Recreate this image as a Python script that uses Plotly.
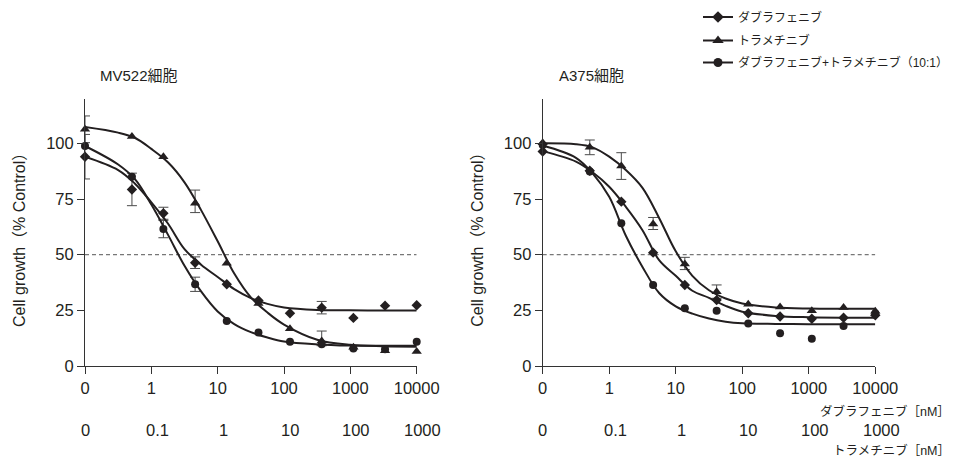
import math
import plotly.graph_objects as go

# ---------------- data ----------------
DAB_CONC = [0, 0.51, 1.52, 4.57, 13.7, 41.2, 123, 370, 1111, 3333, 10000]   # nM dabrafenib
X_TICK_DAB = ["0", "1", "10", "100", "1000", "10000"]
X_TICK_TRA = ["0", "0.1", "1", "10", "100", "1000"]
TICK_LOG = [-1, 0, 1, 2, 3, 4]          # log10 positions ("0" dose drawn at -1)
Y_TICKS = [0, 25, 50, 75, 100]
THRESHOLD = 50

SERIES_NAMES = ["ダブラフェニブ", "トラメチニブ", "ダブラフェニブ+トラメチニブ（10:1）"]
PANEL_TITLES = ["MV522細胞", "A375細胞"]

# MV522 measured points
MV_DAB = [94.0, 79.3, 68.6, 46.4, 36.7, 29.4, 23.7, 26.2, 21.6, 27.1, 27.3]
MV_TRA = [106.3, 103.1, 94.0, 73.1, 46.1, 28.1, 16.7, 11.2, 8.4, 6.8, 6.5]
MV_COMBO = [98.8, 85.0, 61.5, 36.7, 20.2, 15.0, 10.9, 9.8, 7.9, 7.5, 10.9]
MV_DAB_ERR_P = [10, 7.3, 2.7, 2.6, None, None, None, 2.8, None, None, None]
MV_DAB_ERR_M = [10, 7.3, 2.7, 2.6, None, None, None, 2.8, None, None, None]
MV_TRA_ERR_P = [6, None, None, 5.9, None, None, None, 4.5, None, None, None]
MV_TRA_ERR_M = [6, None, None, 4.2, None, None, None, 2.1, None, None, None]
MV_COMBO_ERR_P = [None, None, 3.9, 3.2, None, None, None, None, None, None, None]
MV_COMBO_ERR_M = [None, None, 3.9, 3.2, None, None, None, None, None, None, None]

# A375 measured points
A_DAB = [96.3, 87.7, 73.8, 50.9, 36.4, 29.6, 23.7, 22.2, 21.2, 21.7, 22.8]
A_TRA = [100.3, 98.2, 89.8, 63.8, 45.8, 33.4, 27.7, 26.5, 24.8, 26.3, 24.6]
A_COMBO = [99.3, 87.3, 64.1, 36.4, 25.9, 24.8, 19.1, 14.7, 12.2, 18.0, 23.6]
A_TRA_ERR_P = [None, 3.3, 6.0, 2.9, 3.0, 3.0, None, None, None, None, None]
A_TRA_ERR_M = [None, 3.3, 6.0, 2.5, 2.5, 3.0, None, None, None, None, None]

# fitted curves at these log10 doses
CURVE_LOG = [-1, -0.5, -0.25, 0, 0.25, 0.5, 0.75, 1, 1.25, 1.5, 1.75, 2, 2.5, 3, 3.5, 4]
MV_DAB_FIT = [94.0, 88.0, 82.0, 73.5, 64.0, 52.5, 45.5, 40.0, 34.5, 30.5, 27.9, 26.3, 25.2, 25.0, 24.9, 24.9]
MV_TRA_FIT = [107.3, 104.8, 102.5, 97.5, 91.5, 82.5, 70.0, 56.0, 41.5, 30.8, 24.0, 18.6, 11.8, 9.5, 8.9, 8.7]
MV_COMBO_FIT = [98.8, 90.5, 84.0, 72.5, 59.0, 45.0, 33.5, 24.5, 18.8, 15.2, 12.8, 11.0, 9.7, 9.2, 9.1, 9.1]
A_DAB_FIT = [96.5, 91.8, 87.0, 80.5, 71.5, 61.0, 47.5, 40.5, 33.8, 30.6, 27.0, 24.4, 22.5, 21.9, 21.7, 21.7]
A_TRA_FIT = [100.0, 99.6, 98.2, 94.0, 88.0, 80.0, 66.5, 51.5, 40.5, 34.0, 30.3, 28.1, 26.3, 25.8, 25.7, 25.7]
A_COMBO_FIT = [99.0, 93.5, 86.5, 76.0, 58.5, 44.5, 32.8, 26.8, 23.5, 21.3, 19.9, 19.2, 18.9, 18.8, 18.8, 18.8]

# ---------------- style ----------------
INK = "#231f20"
FONT = "Liberation Sans, Noto Sans CJK JP, sans-serif"
SYMBOLS = ["diamond", "triangle-up", "circle"]
SIZES = [8, 9, 8]

PAGE_MARGIN = 8                      # browser body margin before the plot div
W, H = 961 - PAGE_MARGIN, 459 - PAGE_MARGIN


def px(xpx):
    """page x pixel -> paper fraction"""
    return (xpx - PAGE_MARGIN) / W


def py(ypx):
    """page y pixel -> paper fraction"""
    return 1 - (ypx - PAGE_MARGIN) / H


def dose_pos(c):
    return -1 if c == 0 else math.log10(c)


X_POS = [dose_pos(c) for c in DAB_CONC]

fig = go.Figure()

panels = [
    ("x", "y", [MV_DAB, MV_TRA, MV_COMBO], [MV_DAB_FIT, MV_TRA_FIT, MV_COMBO_FIT],
     [(MV_DAB_ERR_P, MV_DAB_ERR_M), (MV_TRA_ERR_P, MV_TRA_ERR_M), (MV_COMBO_ERR_P, MV_COMBO_ERR_M)]),
    ("x2", "y2", [A_DAB, A_TRA, A_COMBO], [A_DAB_FIT, A_TRA_FIT, A_COMBO_FIT],
     [(None, None), (A_TRA_ERR_P, A_TRA_ERR_M), (None, None)]),
]

for xa, ya, pts, fits, errs in panels:
    # error bars (only points that have them)
    for s in range(3):
        ep, em = errs[s]
        if ep is None:
            continue
        idx = [i for i in range(len(X_POS)) if ep[i] is not None]
        fig.add_trace(go.Scatter(
            x=[X_POS[i] for i in idx], y=[pts[s][i] for i in idx], xaxis=xa, yaxis=ya,
            mode="markers", marker=dict(size=1, opacity=0), showlegend=False, hoverinfo="skip",
            cliponaxis=False,
            error_y=dict(type="data", symmetric=False, array=[ep[i] for i in idx],
                         arrayminus=[em[i] for i in idx], color="#4a4a4a", thickness=1, width=5),
        ))
    # fitted curves
    for s in range(3):
        fig.add_trace(go.Scatter(
            x=CURVE_LOG, y=fits[s], xaxis=xa, yaxis=ya, mode="lines",
            line=dict(color=INK, width=2, shape="spline", smoothing=1.0),
            showlegend=False, hoverinfo="skip", cliponaxis=False,
        ))
    # measured points
    for s in range(3):
        fig.add_trace(go.Scatter(
            x=X_POS, y=pts[s], xaxis=xa, yaxis=ya, mode="markers",
            marker=dict(symbol=SYMBOLS[s], size=SIZES[s], color=INK, line=dict(width=0)),
            showlegend=False, cliponaxis=False,
        ))
    # 50% reference line
    fig.add_shape(type="line", xref=xa, yref=ya, x0=TICK_LOG[0], x1=TICK_LOG[-1],
                  y0=THRESHOLD, y1=THRESHOLD, line=dict(color="#777777", width=1.2, dash="4px,3px"),
                  layer="below")

# legend entries (one legend box per row)
LEG_ROWS_PX = [17, 40.5, 62.5]
legend_keys = ["legend", "legend2", "legend3"]
for s in range(3):
    fig.add_trace(go.Scatter(
        x=[None], y=[None], mode="lines+markers", name=SERIES_NAMES[s],
        line=dict(color=INK, width=2),
        marker=dict(symbol=SYMBOLS[s], size=SIZES[s] + 1, color=INK),
        legend=legend_keys[s], showlegend=True,
    ))

legend_layout = {}
for s, key in enumerate(legend_keys):
    legend_layout[key] = dict(
        x=px(698), xanchor="left", y=py(LEG_ROWS_PX[s]), yanchor="middle",
        font=dict(family=FONT, size=12, color=INK), bgcolor="rgba(0,0,0,0)",
        borderwidth=0, itemwidth=30, tracegroupgap=0,
    )

axis_common = dict(showline=True, linecolor="#333333", linewidth=1, ticks="outside",
                   ticklen=7, tickcolor="#333333", tickwidth=1, showgrid=False, zeroline=False,
                   tickfont=dict(family=FONT, size=16.5, color=INK), automargin=False)

xdomains = [[px(85), px(416.7)], [px(542.7), px(875.3)]]
ydomain = [py(366), py(98.8)]

layout = dict(
    width=W, height=H, margin=dict(l=0, r=0, t=0, b=0, pad=0, autoexpand=False),
    paper_bgcolor="white", plot_bgcolor="white",
    font=dict(family=FONT, color=INK),
    showlegend=True,
)
for k, dom in enumerate(xdomains):
    xn = "xaxis" if k == 0 else "xaxis2"
    yn = "yaxis" if k == 0 else "yaxis2"
    layout[xn] = dict(axis_common, domain=dom, range=[TICK_LOG[0], TICK_LOG[-1]],
                      tickmode="array", tickvals=TICK_LOG, ticktext=X_TICK_DAB,
                      anchor="y" if k == 0 else "y2")
    layout[yn] = dict(axis_common, domain=ydomain, range=[0, 120], tickmode="array",
                      tickvals=Y_TICKS, anchor="x" if k == 0 else "x2")
layout.update(legend_layout)
fig.update_layout(**layout)

ann = []
# second row tick labels (trametinib doses)
for xa in ["x", "x2"]:
    for i, t in enumerate(X_TICK_TRA):
        ann.append(dict(x=TICK_LOG[i], xref=xa, y=py(430), yref="paper", text=t,
                        showarrow=False, xanchor="center", yanchor="middle",
                        xshift=0 if i == 0 else 6, font=dict(family=FONT, size=16.5, color=INK)))
# axis unit labels (right panel)
ann.append(dict(x=px(952), xref="paper", y=py(411.7), yref="paper", text="ダブラフェニブ［nM］",
                showarrow=False, xanchor="right", yanchor="middle", font=dict(family=FONT, size=12.5, color=INK)))
ann.append(dict(x=px(952), xref="paper", y=py(450), yref="paper", text="トラメチニブ［nM］",
                showarrow=False, xanchor="right", yanchor="middle", font=dict(family=FONT, size=12.5, color=INK)))
# y titles
for xpx in [20, 477.7]:
    ann.append(dict(x=px(xpx), xref="paper", y=py(236), yref="paper", text="Cell growth（% Control）",
                    textangle=-90, showarrow=False, xanchor="center", yanchor="middle",
                    font=dict(family=FONT, size=16, color=INK)))
# panel titles
for xpx, t in zip([98.3, 556.7], PANEL_TITLES):
    ann.append(dict(x=px(xpx), xref="paper", y=py(76), yref="paper", text=t,
                    showarrow=False, xanchor="left", yanchor="middle",
                    font=dict(family=FONT, size=15, color=INK)))
fig.update_layout(annotations=ann)

fig.write_html("out.html")
